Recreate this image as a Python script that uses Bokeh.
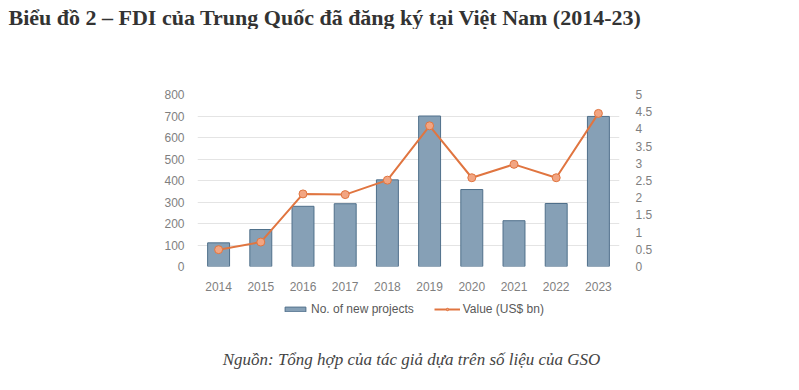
from bokeh.plotting import figure
from bokeh.layouts import column
from bokeh.models import (Range1d, FactorRange, LinearAxis, FixedTicker, NumeralTickFormatter,
                          Legend, LegendItem, Label, Title, ColumnDataSource)
from bokeh.embed import file_html
from bokeh.resources import INLINE

years = ["2014", "2015", "2016", "2017", "2018", "2019", "2020", "2021", "2022", "2023"]
projects = [110, 172, 280, 292, 403, 700, 358, 213, 293, 698]
value_bn = [0.49, 0.71, 2.11, 2.09, 2.51, 4.09, 2.58, 2.97, 2.58, 4.45]

left_ticks = [0, 100, 200, 300, 400, 500, 600, 700, 800]
right_ticks = [0, 0.5, 1, 1.5, 2, 2.5, 3, 3.5, 4, 4.5, 5]

title_text = "Biểu đồ 2 – FDI của Trung Quốc đã đăng ký tại Việt Nam (2014-23)"
source_text = "Nguồn: Tổng hợp của tác giả dựa trên số liệu của GSO"
bar_label = "No. of new projects"
line_label = "Value (US$ bn)"

BAR_FILL, BAR_LINE = "#86a0b6", "#4f6f8a"
LINE_COL, MARK_FILL = "#e07540", "#f2a582"
W = 783
FRAME_LEFT = 197
NAN = float("nan")


def blank(h):
    f = figure(width=W, height=h, output_backend="svg", toolbar_location=None,
               x_range=Range1d(0, 1), y_range=Range1d(0, 1),
               x_axis_location=None, y_axis_location=None,
               min_border=0, min_border_left=0, min_border_right=0,
               min_border_top=0, min_border_bottom=0)
    f.outline_line_color = None
    f.xgrid.visible = False
    f.ygrid.visible = False
    return f


# --- title strip (title lives in a side panel so it is not clipped)
p0 = blank(29)
p0.add_layout(Title(text=title_text, align="left", offset=8 - FRAME_LEFT, standoff=0,
                    text_font="Liberation Serif", text_font_size="22px", text_font_style="bold",
                    text_color="#333333"), "below")

# --- main chart
src = ColumnDataSource(dict(year=years, projects=projects, value=value_bn))
p = figure(width=W, height=267, output_backend="svg", toolbar_location=None,
           x_range=FactorRange(*years, range_padding=0),
           y_range=Range1d(0, 800),
           min_border_left=FRAME_LEFT, min_border_right=164, min_border_top=65, min_border_bottom=30)
p.extra_y_ranges = {"val": Range1d(0, 5)}
p.outline_line_color = None

bars = p.vbar(x="year", top="projects", width=0.52, source=src,
              fill_color=BAR_FILL, line_color=BAR_LINE, line_width=1)
p.line(x="year", y="value", source=src, y_range_name="val",
       line_color=LINE_COL, line_width=2)
p.scatter(x="year", y="value", source=src, y_range_name="val", size=8,
          fill_color=MARK_FILL, line_color=LINE_COL, line_width=1)

label_color = "#7f7f7f"
p.yaxis.ticker = FixedTicker(ticks=left_ticks)
for ax in [p.yaxis[0], p.xaxis[0]]:
    ax.axis_line_color = None
    ax.major_tick_line_color = None
    ax.minor_tick_line_color = None
    ax.major_label_text_color = label_color
    ax.major_label_text_font = "Liberation Sans"
    ax.major_label_text_font_size = "12px"
p.yaxis.major_label_standoff = 7
p.xaxis.major_label_standoff = 9

ra = LinearAxis(y_range_name="val", ticker=FixedTicker(ticks=right_ticks),
                formatter=NumeralTickFormatter(format="0.[0]"))
ra.axis_line_color = None
ra.major_tick_line_color = None
ra.minor_tick_line_color = None
ra.major_label_text_color = label_color
ra.major_label_text_font = "Liberation Sans"
ra.major_label_text_font_size = "12px"
ra.major_label_standoff = 10
p.add_layout(ra, "right")

p.xgrid.grid_line_color = None
p.ygrid.grid_line_color = "#e4e4e4"
p.ygrid.ticker = FixedTicker(ticks=left_ticks)

# --- legend + source strip (frame is aligned with the chart frame)
p2 = blank(78)
lb = p2.vbar(x=[NAN], top=[NAN], width=0.5, fill_color=BAR_FILL, line_color=BAR_LINE, line_width=1)
ll = p2.line(x=[NAN, NAN], y=[NAN, NAN], line_color=LINE_COL, line_width=2)
lm = p2.scatter(x=[NAN], y=[NAN], size=6, fill_color=MARK_FILL, line_color=LINE_COL, line_width=1)
legend = Legend(items=[LegendItem(label=bar_label, renderers=[lb]),
                       LegendItem(label=line_label, renderers=[ll, lm])],
                orientation="horizontal", location=(282 - FRAME_LEFT, 58),
                label_text_font="Liberation Sans", label_text_font_size="12px",
                label_text_color="#595959", glyph_width=26, glyph_height=6,
                label_height=14, spacing=20, padding=0, margin=0,
                border_line_color=None, background_fill_alpha=0, label_standoff=3)
p2.add_layout(legend, "center")
p2.add_layout(Label(x=411 - FRAME_LEFT, y=15, x_units="screen", y_units="screen", text=source_text,
                    text_font="Liberation Serif", text_font_size="17px", text_font_style="italic",
                    text_color="#444444", text_baseline="alphabetic", text_align="center"))

layout = column(p0, p, p2, spacing=0)
open("out.html", "w").write(file_html(layout, INLINE))
